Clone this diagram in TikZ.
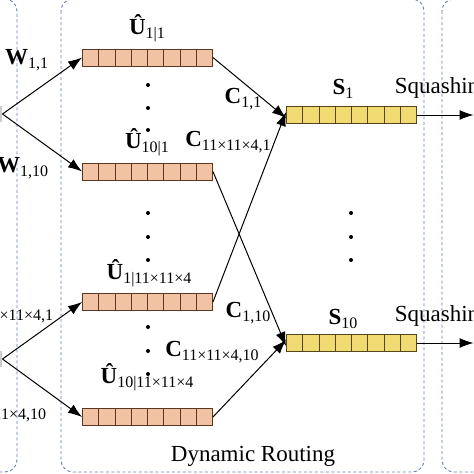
\documentclass[tikz,border=0pt]{standalone}
\usepackage{fontspec}
\setmainfont{Liberation Serif}
\usetikzlibrary{arrows.meta, positioning}
\newcommand{\lsub}[1]{\raisebox{-4pt}{\fontsize{16}{18}\selectfont #1}}
\definecolor{uorange}{RGB}{242,194,164}
\definecolor{uedge}{RGB}{90,55,35}
\definecolor{syellow}{RGB}{242,218,115}
\definecolor{sedge}{RGB}{85,70,25}
\definecolor{dashblue}{RGB}{100,125,180}

\begin{document}
\begin{tikzpicture}[x=1pt, y=-1pt, line width=1pt, >={Latex[length=14pt,width=10pt]},
                    font=\fontsize{23}{27}\selectfont,
                    vecbox/.style = {draw=#1, line width=0.9pt, minimum width=130pt, minimum height=17pt, inner sep=0pt,
                      path picture={\foreach \k in {1,...,7}
                        \draw[#1, line width=0.8pt] ([xshift=\k*16.25pt]path picture bounding box.south west)
                          -- ([xshift=\k*16.25pt]path picture bounding box.north west);}},
                    port/.style = {fill=gray!40, minimum width=10pt, minimum height=16pt, inner sep=0pt},
                    group/.style = {draw=dashblue, line width=0.9pt, dash pattern=on 3pt off 2.5pt, rounded corners=12pt}]
    \useasboundingbox (0,0) rectangle (474,474);
    \clip (0,0) rectangle (474,474);

    % dashed stages
    \draw[group] (-40,-1) rectangle (17,472);
    \draw[group] (61,-1) rectangle (424,472);
    \draw[group] (442,-1) rectangle (530,472);

    % prediction vectors and sums
    \node[vecbox=uedge, fill=uorange] (u1) at (147.5,57.5) {};
    \node[vecbox=uedge, fill=uorange] (u2) at (147.5,171.5) {};
    \node[vecbox=uedge, fill=uorange] (u3) at (147.5,302) {};
    \node[vecbox=uedge, fill=uorange] (u4) at (147.5,417) {};
    \node[vecbox=sedge, fill=syellow] (s1) at (351.5,115) {};
    \node[vecbox=sedge, fill=syellow] (s10) at (351.5,343) {};

    \node[port] (in1) at (-3,114) {};
    \node[port] (in2) at (-3,359) {};
    \node[port] (out1) at (479,115) {};
    \node[port] (out2) at (479,343) {};

    \foreach \y in {85,108,130,213,237,260,327,351,374}
        \fill (148,\y) circle (2);
    \foreach \y in {213,237,260}
        \fill (351,\y) circle (2);

    % labels
    \node[anchor=east] (w11) at (52,60) {\textbf{W}\lsub{1,1}};
    \node[anchor=east] (w110) at (52,168) {\textbf{W}\lsub{1,10}};
    \node[anchor=east] (wn1) at (57,312) {\textbf{W}\lsub{11×11×4,1}};
    \node[anchor=east] (wn10) at (50,411) {\textbf{W}\lsub{11×11×4,10}};

    \node (lu1) at (147,28) {\textbf{Û}\lsub{1|1}};
    \node (lu2) at (147,142) {\textbf{Û}\lsub{10|1}};
    \node (lu3) at (149,273) {\textbf{Û}\lsub{1|11×11×4}};
    \node (lu4) at (147,377) {\textbf{Û}\lsub{10|11×11×4}};

    \node (c11) at (243,99) {\textbf{C}\lsub{1,1}};
    \node (cn1) at (228,142) {\textbf{C}\lsub{11×11×4,1}};
    \node (c110) at (248,313) {\textbf{C}\lsub{1,10}};
    \node (cn10) at (212,352) {\textbf{C}\lsub{11×11×4,10}};

    \node (ls1) at (343,89) {\textbf{S}\lsub{1}};
    \node (ls10) at (343,319) {\textbf{S}\lsub{10}};
    \node[anchor=west] (sq1) at (391,88) {Squashing};
    \node[anchor=west] (sq2) at (391,316) {Squashing};
    \node (dr) at (253,456) {Dynamic Routing};

    % connectors
    \draw[->] (in1.east) -- (u1.west);
    \draw[->] (in1.east) -- (u2.west);
    \draw[->] (in2.east) -- (u3.west);
    \draw[->] (in2.east) -- (u4.west);
    \draw[->] (u1.east) -- ([yshift=-3pt]s1.west);
    \draw[->] (u3.east) -- ([yshift=3pt]s1.west);
    \draw[->] (u2.east) -- ([yshift=-3pt]s10.west);
    \draw[->] (u4.east) -- ([yshift=3pt]s10.west);
    \draw[->] (s1.east) -- (out1.west);
    \draw[->] (s10.east) -- (out2.west);
\end{tikzpicture}
\end{document}
